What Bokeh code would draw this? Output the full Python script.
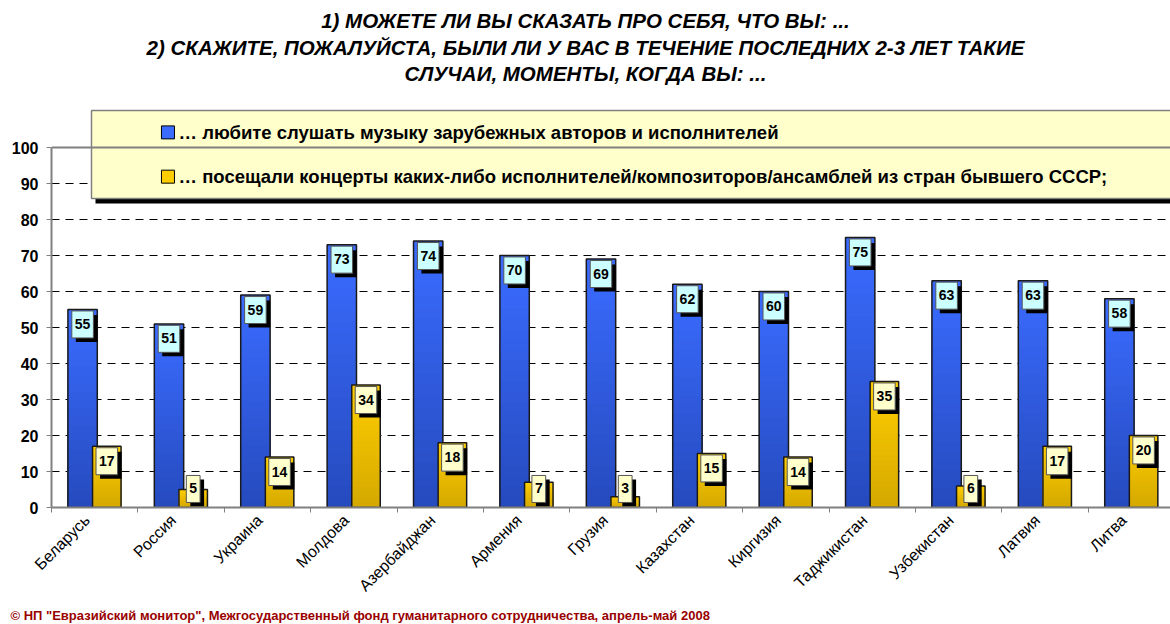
import numpy as np
from math import pi
from bokeh.plotting import figure
from bokeh.models import Range1d, FixedTicker, Span, Title, ColumnDataSource
from bokeh.core.properties import value
from bokeh.embed import file_html
from bokeh.resources import INLINE

# ---------------- data ----------------
countries = ["Беларусь", "Россия", "Украина", "Молдова", "Азербайджан", "Армения",
             "Грузия", "Казахстан", "Киргизия", "Таджикистан", "Узбекистан", "Латвия", "Литва"]
listen = [55, 51, 59, 73, 74, 70, 69, 62, 60, 75, 63, 63, 58]
concerts = [17, 5, 14, 34, 18, 7, 3, 15, 14, 35, 6, 17, 20]
series_names = [
    "… любите слушать музыку зарубежных авторов и исполнителей",
    "… посещали концерты каких-либо исполнителей/композиторов/ансамблей из стран бывшего СССР;",
]
title_lines = [
    "1) МОЖЕТЕ ЛИ ВЫ СКАЗАТЬ ПРО СЕБЯ, ЧТО ВЫ: ...",
    "2) СКАЖИТЕ, ПОЖАЛУЙСТА, БЫЛИ ЛИ У ВАС В ТЕЧЕНИЕ ПОСЛЕДНИХ 2-3 ЛЕТ ТАКИЕ",
    "СЛУЧАИ, МОМЕНТЫ, КОГДА ВЫ: ...",
]
footer = '© НП "Евразийский монитор", Межгосударственный фонд гуманитарного сотрудничества, апрель-май 2008'
y_ticks = list(range(0, 101, 10))
grid_ticks = list(range(10, 100, 10))

FONT = value("Liberation Sans")
BLUE_TOP, BLUE_BOT = (58, 108, 255), (38, 74, 190)
YEL_TOP, YEL_BOT = (255, 206, 0), (212, 168, 0)

W, H = 1170, 624
PX_X = 86.4   # px per category
PX_Y = 3.6    # px per percent
p = figure(width=W, height=H, x_range=Range1d(-0.5, -0.5 + (W - 51) / PX_X),
           y_range=Range1d(0, 507 / PX_Y),
           output_backend="svg", toolbar_location=None,
           min_border_left=51, min_border_right=0, min_border_top=0, min_border_bottom=117)
p.outline_line_color = None
p.background_fill_color = "white"
p.border_fill_color = "white"


def hexc(rgb):
    return "#%02x%02x%02x" % tuple(int(round(c)) for c in rgb)


def gradient_source(xs, vals, top_rgb, bot_rgb, n=24):
    # nested slices from the base: tallest (lightest) first, shorter ones on top
    x, t, c = [], [], []
    for xi, v in zip(xs, vals):
        for k in range(n - 1, -1, -1):
            f = (k + 0.5) / n
            rgb = [bb + (tt - bb) * f for tt, bb in zip(top_rgb, bot_rgb)]
            x.append(xi)
            t.append(v * (k + 1) / n)
            c.append(hexc(rgb))
    return ColumnDataSource(dict(x=x, top=t, color=c))


idx = np.arange(len(countries))
xb = idx - 0.14
xy = idx + 0.14

# grid & frame top
p.xgrid.visible = False
p.ygrid.ticker = FixedTicker(ticks=grid_ticks)
p.ygrid.grid_line_color = "black"
p.ygrid.grid_line_dash = "8 6"
p.ygrid.grid_line_width = 1
p.add_layout(Span(location=100, dimension="width", line_color="#808080", line_width=2))

# bars (blue then yellow)
for xs, vals, top_rgb, bot_rgb, w in [(xb, listen, BLUE_TOP, BLUE_BOT, 0.34),
                                       (xy, concerts, YEL_TOP, YEL_BOT, 0.33)]:
    src = gradient_source(xs, vals, top_rgb, bot_rgb)
    p.vbar(x="x", bottom=0, top="top", width=w, source=src,
           fill_color="color", line_color=None)
    p.vbar(x=xs, top=vals, bottom=0, width=w, fill_color=None,
           line_color="#1a1a1a", line_width=1.5)

# data labels (box + shadow)
for xs, vals, bg in [(xb, listen, "#ccffff"), (xy, concerts, "#ffffcc")]:
    ytop = [max(v - 0.4, 8.9) for v in vals]
    txt = [str(v) for v in vals]
    pad = dict(left=3, right=3, top=8, bottom=9)
    p.text(x=xs, y=ytop, text=txt, x_offset=4, y_offset=4, text_align="center",
           text_baseline="top", text_font=FONT, text_font_style="bold",
           text_font_size="14px", text_color="black", background_fill_color="black",
           padding=pad)
    p.text(x=xs, y=ytop, text=txt, x_offset=0, y_offset=0, text_align="center",
           text_baseline="top", text_font=FONT, text_font_style="bold",
           text_font_size="14px", text_color="black", background_fill_color=bg,
           border_line_color="#555555", border_line_width=1, padding=pad)

# legend box
leg_left, leg_top, leg_bot = -0.037, 110.3, 85.8
p.quad(left=leg_left + 4 / PX_X, right=20, top=leg_top - 4 / PX_Y, bottom=leg_bot - 5 / PX_Y,
       fill_color="black", line_color=None)
p.quad(left=leg_left, right=20, top=leg_top, bottom=leg_bot,
       fill_color="#ffffcc", line_color="#808080", line_width=1.5)
leg_y = [104.2, 91.9]
p.rect(x=[0.848, 0.848], y=leg_y, width=13, height=13, width_units="screen",
       height_units="screen", fill_color=[hexc(BLUE_TOP), hexc(YEL_TOP)],
       line_color="black", line_width=1)
p.text(x=[0.97, 0.97], y=leg_y, text=series_names, text_font=FONT,
       text_font_style="bold", text_font_size="18.5px", text_baseline="middle",
       text_color="black")

# title
p.text(x=[5.68] * 3, y=[135.3, 127.8, 120.6], text=title_lines, text_font=FONT,
       text_font_style="bold italic", text_font_size="20.5px", text_align="center",
       text_baseline="middle", text_color="black")

# axes
p.yaxis.ticker = FixedTicker(ticks=y_ticks)
p.yaxis.bounds = (0, 100)
p.yaxis.axis_line_color = "#808080"
p.yaxis.axis_line_width = 2
p.yaxis.major_tick_line_color = "#808080"
p.yaxis.major_tick_out = 5
p.yaxis.major_tick_in = 0
p.yaxis.minor_tick_line_color = None
p.yaxis.major_label_text_font = "Liberation Sans"
p.yaxis.major_label_text_font_style = "bold"
p.yaxis.major_label_text_font_size = "16px"
p.yaxis.major_label_text_color = "black"
p.yaxis.major_label_standoff = 8

label_pos = [float(i) - 0.09 for i in idx]
p.xaxis.ticker = FixedTicker(ticks=label_pos, minor_ticks=[i - 0.5 for i in range(len(countries) + 1)])
p.xaxis.major_label_overrides = {lp: c for lp, c in zip(label_pos, countries)}
p.xaxis.major_tick_line_color = None
p.xaxis.minor_tick_line_color = "#808080"
p.xaxis.minor_tick_out = 5
p.xaxis.minor_tick_in = 0
p.xaxis.axis_line_color = "#808080"
p.xaxis.axis_line_width = 2
p.xaxis.major_label_orientation = pi / 4
p.xaxis.major_label_text_font = "Liberation Sans"
p.xaxis.major_label_text_font_size = "16px"
p.xaxis.major_label_text_color = "black"
p.xaxis.major_label_standoff = 4

# footer
p.add_layout(Title(text=footer, align="left", offset=-41, standoff=4,
                   text_font="Liberation Sans", text_font_style="bold",
                   text_font_size="13px", text_color="#990000"), "below")

open("out.html", "w").write(file_html(p, INLINE))
